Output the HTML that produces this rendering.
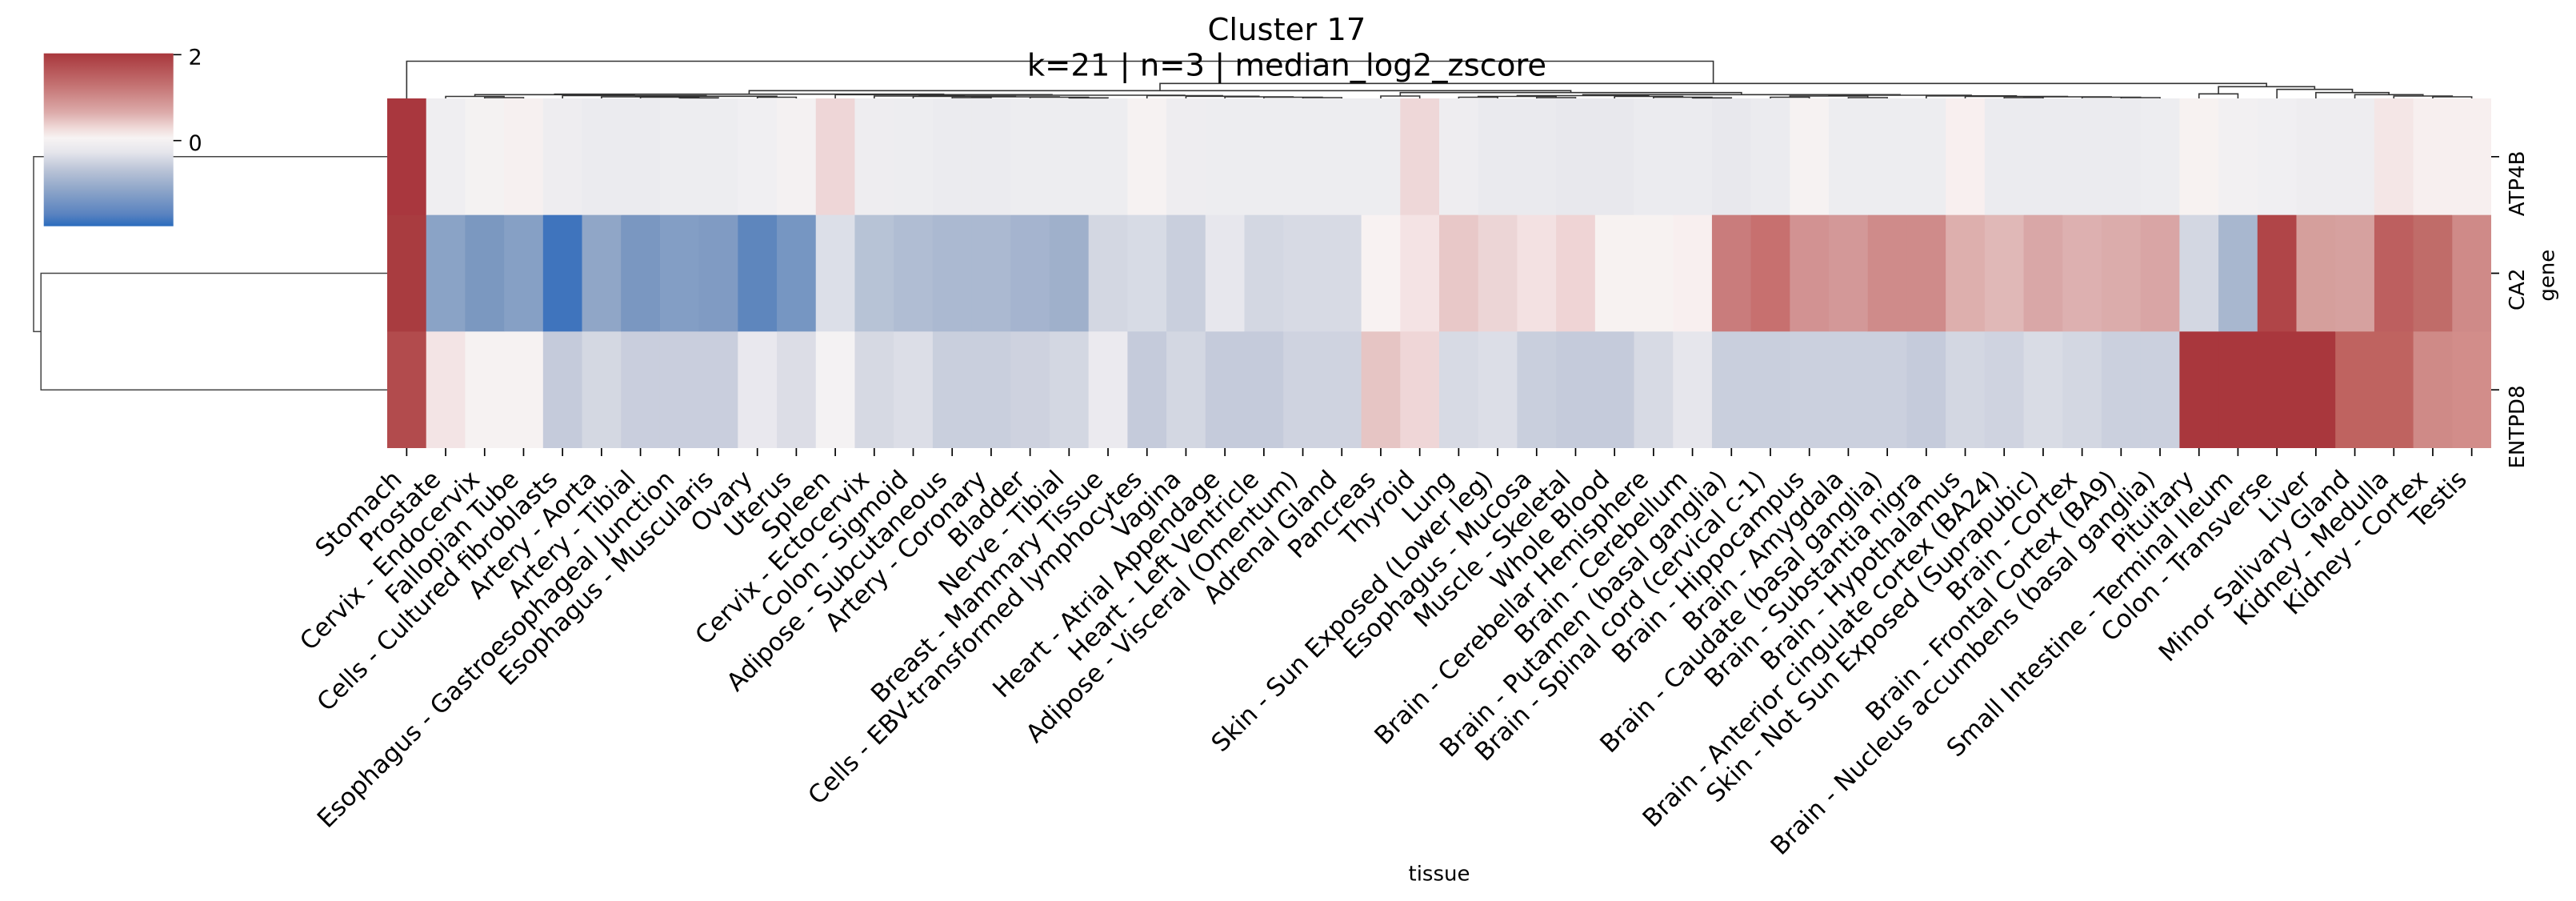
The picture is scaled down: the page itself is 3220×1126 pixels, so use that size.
<!DOCTYPE html>
<html><head><meta charset="utf-8">
<style>
html,body{margin:0;padding:0;background:#fff}
svg{display:block}
text{font-family:"DejaVu Sans","Liberation Sans",sans-serif;fill:#000}
</style></head>
<body>
<svg xmlns="http://www.w3.org/2000/svg" width="3220" height="1126" viewBox="0 0 3220 1126">
<rect x="0" y="0" width="3220" height="1126" fill="#fff"/>
<defs>
<linearGradient id="cb" x1="0" y1="0" x2="0" y2="1">
<stop offset="0" stop-color="#a8373c"/>
<stop offset="0.185" stop-color="#c47272"/>
<stop offset="0.34" stop-color="#dcaaa9"/>
<stop offset="0.43" stop-color="#efd9d8"/>
<stop offset="0.49" stop-color="#f7f3f3"/>
<stop offset="0.57" stop-color="#e6e6ec"/>
<stop offset="0.68" stop-color="#b8c2d6"/>
<stop offset="0.80" stop-color="#8aa3c8"/>
<stop offset="0.93" stop-color="#5a83c0"/>
<stop offset="1" stop-color="#2a6cbd"/>
</linearGradient>
</defs>

<!-- heatmap -->
<g>
<rect x="484" y="123" width="49.2" height="146.2" fill="#a9373e"/><rect x="484" y="268.67" width="49.2" height="146.2" fill="#a93c40"/><rect x="484" y="414.33" width="49.2" height="145.67" fill="#b24b4d"/>
<rect x="532.70" y="123" width="49.2" height="146.2" fill="#efeef1"/><rect x="532.70" y="268.67" width="49.2" height="146.2" fill="#8aa3c6"/><rect x="532.70" y="414.33" width="49.2" height="145.67" fill="#f3e4e5"/>
<rect x="581.41" y="123" width="49.2" height="146.2" fill="#f4f2f2"/><rect x="581.41" y="268.67" width="49.2" height="146.2" fill="#7b98c0"/><rect x="581.41" y="414.33" width="49.2" height="145.67" fill="#f6f2f2"/>
<rect x="630.11" y="123" width="49.2" height="146.2" fill="#f6f0f0"/><rect x="630.11" y="268.67" width="49.2" height="146.2" fill="#86a0c5"/><rect x="630.11" y="414.33" width="49.2" height="145.67" fill="#f6f2f2"/>
<rect x="678.82" y="123" width="49.2" height="146.2" fill="#eeedf0"/><rect x="678.82" y="268.67" width="49.2" height="146.2" fill="#3f74bd"/><rect x="678.82" y="414.33" width="49.2" height="145.67" fill="#c5cbdb"/>
<rect x="727.52" y="123" width="49.2" height="146.2" fill="#ebebef"/><rect x="727.52" y="268.67" width="49.2" height="146.2" fill="#90a6c7"/><rect x="727.52" y="414.33" width="49.2" height="145.67" fill="#d4d8e2"/>
<rect x="776.22" y="123" width="49.2" height="146.2" fill="#ebebef"/><rect x="776.22" y="268.67" width="49.2" height="146.2" fill="#7a97c1"/><rect x="776.22" y="414.33" width="49.2" height="145.67" fill="#c9cedd"/>
<rect x="824.93" y="123" width="49.2" height="146.2" fill="#ededf0"/><rect x="824.93" y="268.67" width="49.2" height="146.2" fill="#839ec5"/><rect x="824.93" y="414.33" width="49.2" height="145.67" fill="#c9cedd"/>
<rect x="873.63" y="123" width="49.2" height="146.2" fill="#ededf0"/><rect x="873.63" y="268.67" width="49.2" height="146.2" fill="#809bc3"/><rect x="873.63" y="414.33" width="49.2" height="145.67" fill="#c9cedd"/>
<rect x="922.34" y="123" width="49.2" height="146.2" fill="#f0eff2"/><rect x="922.34" y="268.67" width="49.2" height="146.2" fill="#5e86bd"/><rect x="922.34" y="414.33" width="49.2" height="145.67" fill="#e9e8ee"/>
<rect x="971.04" y="123" width="49.2" height="146.2" fill="#f4f1f2"/><rect x="971.04" y="268.67" width="49.2" height="146.2" fill="#7696c2"/><rect x="971.04" y="414.33" width="49.2" height="145.67" fill="#dcdde6"/>
<rect x="1019.74" y="123" width="49.2" height="146.2" fill="#eed6d7"/><rect x="1019.74" y="268.67" width="49.2" height="146.2" fill="#dcdfe8"/><rect x="1019.74" y="414.33" width="49.2" height="145.67" fill="#f4f2f3"/>
<rect x="1068.45" y="123" width="49.2" height="146.2" fill="#eeedf0"/><rect x="1068.45" y="268.67" width="49.2" height="146.2" fill="#b7c3d6"/><rect x="1068.45" y="414.33" width="49.2" height="145.67" fill="#d6d9e3"/>
<rect x="1117.15" y="123" width="49.2" height="146.2" fill="#ededf0"/><rect x="1117.15" y="268.67" width="49.2" height="146.2" fill="#b0bdd3"/><rect x="1117.15" y="414.33" width="49.2" height="145.67" fill="#dcdee7"/>
<rect x="1165.86" y="123" width="49.2" height="146.2" fill="#ebebef"/><rect x="1165.86" y="268.67" width="49.2" height="146.2" fill="#abb9d1"/><rect x="1165.86" y="414.33" width="49.2" height="145.67" fill="#c9cfdd"/>
<rect x="1214.56" y="123" width="49.2" height="146.2" fill="#ebebef"/><rect x="1214.56" y="268.67" width="49.2" height="146.2" fill="#abb9d1"/><rect x="1214.56" y="414.33" width="49.2" height="145.67" fill="#c9cfdd"/>
<rect x="1263.26" y="123" width="49.2" height="146.2" fill="#ededf0"/><rect x="1263.26" y="268.67" width="49.2" height="146.2" fill="#a5b4cf"/><rect x="1263.26" y="414.33" width="49.2" height="145.67" fill="#ced2df"/>
<rect x="1311.97" y="123" width="49.2" height="146.2" fill="#ededf0"/><rect x="1311.97" y="268.67" width="49.2" height="146.2" fill="#9fb0cb"/><rect x="1311.97" y="414.33" width="49.2" height="145.67" fill="#d3d7e2"/>
<rect x="1360.67" y="123" width="49.2" height="146.2" fill="#ededf0"/><rect x="1360.67" y="268.67" width="49.2" height="146.2" fill="#d3d7e2"/><rect x="1360.67" y="414.33" width="49.2" height="145.67" fill="#ebeaef"/>
<rect x="1409.38" y="123" width="49.2" height="146.2" fill="#f6f2f2"/><rect x="1409.38" y="268.67" width="49.2" height="146.2" fill="#d7dbe5"/><rect x="1409.38" y="414.33" width="49.2" height="145.67" fill="#c5cbdb"/>
<rect x="1458.08" y="123" width="49.2" height="146.2" fill="#eeedf0"/><rect x="1458.08" y="268.67" width="49.2" height="146.2" fill="#c9cfdd"/><rect x="1458.08" y="414.33" width="49.2" height="145.67" fill="#d3d7e2"/>
<rect x="1506.78" y="123" width="49.2" height="146.2" fill="#ededf0"/><rect x="1506.78" y="268.67" width="49.2" height="146.2" fill="#e7e7ed"/><rect x="1506.78" y="414.33" width="49.2" height="145.67" fill="#c5cbdb"/>
<rect x="1555.49" y="123" width="49.2" height="146.2" fill="#ededf0"/><rect x="1555.49" y="268.67" width="49.2" height="146.2" fill="#d3d7e2"/><rect x="1555.49" y="414.33" width="49.2" height="145.67" fill="#c5cbdb"/>
<rect x="1604.19" y="123" width="49.2" height="146.2" fill="#ededf0"/><rect x="1604.19" y="268.67" width="49.2" height="146.2" fill="#d7dae4"/><rect x="1604.19" y="414.33" width="49.2" height="145.67" fill="#cfd3e0"/>
<rect x="1652.90" y="123" width="49.2" height="146.2" fill="#ededf0"/><rect x="1652.90" y="268.67" width="49.2" height="146.2" fill="#d7dae4"/><rect x="1652.90" y="414.33" width="49.2" height="145.67" fill="#cfd3e0"/>
<rect x="1701.60" y="123" width="49.2" height="146.2" fill="#ededf0"/><rect x="1701.60" y="268.67" width="49.2" height="146.2" fill="#f8f2f2"/><rect x="1701.60" y="414.33" width="49.2" height="145.67" fill="#e6c5c4"/>
<rect x="1750.30" y="123" width="49.2" height="146.2" fill="#eed7d8"/><rect x="1750.30" y="268.67" width="49.2" height="146.2" fill="#f4e3e4"/><rect x="1750.30" y="414.33" width="49.2" height="145.67" fill="#efd6d7"/>
<rect x="1799.01" y="123" width="49.2" height="146.2" fill="#eeedf0"/><rect x="1799.01" y="268.67" width="49.2" height="146.2" fill="#e8c8c8"/><rect x="1799.01" y="414.33" width="49.2" height="145.67" fill="#d7dae4"/>
<rect x="1847.71" y="123" width="49.2" height="146.2" fill="#eaeaee"/><rect x="1847.71" y="268.67" width="49.2" height="146.2" fill="#ecd5d6"/><rect x="1847.71" y="414.33" width="49.2" height="145.67" fill="#dcdee7"/>
<rect x="1896.42" y="123" width="49.2" height="146.2" fill="#eaeaee"/><rect x="1896.42" y="268.67" width="49.2" height="146.2" fill="#f3e1e2"/><rect x="1896.42" y="414.33" width="49.2" height="145.67" fill="#c9cfdd"/>
<rect x="1945.12" y="123" width="49.2" height="146.2" fill="#e8e8ed"/><rect x="1945.12" y="268.67" width="49.2" height="146.2" fill="#efd4d5"/><rect x="1945.12" y="414.33" width="49.2" height="145.67" fill="#c5cbdb"/>
<rect x="1993.82" y="123" width="49.2" height="146.2" fill="#e8e8ed"/><rect x="1993.82" y="268.67" width="49.2" height="146.2" fill="#f7f2f1"/><rect x="1993.82" y="414.33" width="49.2" height="145.67" fill="#c5cbdb"/>
<rect x="2042.53" y="123" width="49.2" height="146.2" fill="#ebebef"/><rect x="2042.53" y="268.67" width="49.2" height="146.2" fill="#f7f2f1"/><rect x="2042.53" y="414.33" width="49.2" height="145.67" fill="#d7dae4"/>
<rect x="2091.23" y="123" width="49.2" height="146.2" fill="#ebebef"/><rect x="2091.23" y="268.67" width="49.2" height="146.2" fill="#f8efef"/><rect x="2091.23" y="414.33" width="49.2" height="145.67" fill="#e6e6ec"/>
<rect x="2139.94" y="123" width="49.2" height="146.2" fill="#e8e8ed"/><rect x="2139.94" y="268.67" width="49.2" height="146.2" fill="#c97c7c"/><rect x="2139.94" y="414.33" width="49.2" height="145.67" fill="#c9cfdd"/>
<rect x="2188.64" y="123" width="49.2" height="146.2" fill="#ebebef"/><rect x="2188.64" y="268.67" width="49.2" height="146.2" fill="#c7706f"/><rect x="2188.64" y="414.33" width="49.2" height="145.67" fill="#c9cfdd"/>
<rect x="2237.34" y="123" width="49.2" height="146.2" fill="#f6f2f2"/><rect x="2237.34" y="268.67" width="49.2" height="146.2" fill="#d29292"/><rect x="2237.34" y="414.33" width="49.2" height="145.67" fill="#cbd0de"/>
<rect x="2286.05" y="123" width="49.2" height="146.2" fill="#ededf0"/><rect x="2286.05" y="268.67" width="49.2" height="146.2" fill="#d39898"/><rect x="2286.05" y="414.33" width="49.2" height="145.67" fill="#cbd0de"/>
<rect x="2334.75" y="123" width="49.2" height="146.2" fill="#ededf0"/><rect x="2334.75" y="268.67" width="49.2" height="146.2" fill="#cf8b8a"/><rect x="2334.75" y="414.33" width="49.2" height="145.67" fill="#cbd0de"/>
<rect x="2383.46" y="123" width="49.2" height="146.2" fill="#ededf0"/><rect x="2383.46" y="268.67" width="49.2" height="146.2" fill="#cf8b8a"/><rect x="2383.46" y="414.33" width="49.2" height="145.67" fill="#c5cbdb"/>
<rect x="2432.16" y="123" width="49.2" height="146.2" fill="#f8efef"/><rect x="2432.16" y="268.67" width="49.2" height="146.2" fill="#ddafad"/><rect x="2432.16" y="414.33" width="49.2" height="145.67" fill="#d3d7e2"/>
<rect x="2480.86" y="123" width="49.2" height="146.2" fill="#ebebef"/><rect x="2480.86" y="268.67" width="49.2" height="146.2" fill="#e0b8b7"/><rect x="2480.86" y="414.33" width="49.2" height="145.67" fill="#cfd3e0"/>
<rect x="2529.57" y="123" width="49.2" height="146.2" fill="#ebebef"/><rect x="2529.57" y="268.67" width="49.2" height="146.2" fill="#d9a7a7"/><rect x="2529.57" y="414.33" width="49.2" height="145.67" fill="#d9dce5"/>
<rect x="2578.27" y="123" width="49.2" height="146.2" fill="#ebebef"/><rect x="2578.27" y="268.67" width="49.2" height="146.2" fill="#ddb0b0"/><rect x="2578.27" y="414.33" width="49.2" height="145.67" fill="#d3d7e2"/>
<rect x="2626.98" y="123" width="49.2" height="146.2" fill="#ebebef"/><rect x="2626.98" y="268.67" width="49.2" height="146.2" fill="#dbacab"/><rect x="2626.98" y="414.33" width="49.2" height="145.67" fill="#cbd0de"/>
<rect x="2675.68" y="123" width="49.2" height="146.2" fill="#ededf0"/><rect x="2675.68" y="268.67" width="49.2" height="146.2" fill="#d9a5a5"/><rect x="2675.68" y="414.33" width="49.2" height="145.67" fill="#cbd0de"/>
<rect x="2724.38" y="123" width="49.2" height="146.2" fill="#f7f2f1"/><rect x="2724.38" y="268.67" width="49.2" height="146.2" fill="#d3d7e2"/><rect x="2724.38" y="414.33" width="49.2" height="145.67" fill="#a9373d"/>
<rect x="2773.09" y="123" width="49.2" height="146.2" fill="#f2f0f2"/><rect x="2773.09" y="268.67" width="49.2" height="146.2" fill="#a8b7cf"/><rect x="2773.09" y="414.33" width="49.2" height="145.67" fill="#a9373d"/>
<rect x="2821.79" y="123" width="49.2" height="146.2" fill="#f0eff2"/><rect x="2821.79" y="268.67" width="49.2" height="146.2" fill="#b04548"/><rect x="2821.79" y="414.33" width="49.2" height="145.67" fill="#a9373d"/>
<rect x="2870.50" y="123" width="49.2" height="146.2" fill="#eeedf0"/><rect x="2870.50" y="268.67" width="49.2" height="146.2" fill="#d59f9c"/><rect x="2870.50" y="414.33" width="49.2" height="145.67" fill="#a9373d"/>
<rect x="2919.20" y="123" width="49.2" height="146.2" fill="#eeedf0"/><rect x="2919.20" y="268.67" width="49.2" height="146.2" fill="#d6a19f"/><rect x="2919.20" y="414.33" width="49.2" height="145.67" fill="#bf6360"/>
<rect x="2967.90" y="123" width="49.2" height="146.2" fill="#f4e6e6"/><rect x="2967.90" y="268.67" width="49.2" height="146.2" fill="#bd5f5f"/><rect x="2967.90" y="414.33" width="49.2" height="145.67" fill="#bf6360"/>
<rect x="3016.61" y="123" width="49.2" height="146.2" fill="#f7efef"/><rect x="3016.61" y="268.67" width="49.2" height="146.2" fill="#c06c69"/><rect x="3016.61" y="414.33" width="49.2" height="145.67" fill="#cf8a87"/>
<rect x="3065.31" y="123" width="48.7" height="146.2" fill="#f7efef"/><rect x="3065.31" y="268.67" width="48.7" height="146.2" fill="#cf8a88"/><rect x="3065.31" y="414.33" width="48.7" height="145.67" fill="#d28d8a"/>
</g>

<!-- row dendrogram -->
<g fill="none" stroke="#444" stroke-width="1.5">
<path d="M484 195.8H42V414.35H51.2"/>
<path d="M484 341.5H51.2V487.2H484"/>
</g>

<!-- column dendrogram -->
<g fill="none" stroke="#333" stroke-width="1.6">
<path d="M3040.96 123V121H3089.66V123"/>
<path d="M2992.26 123V120H3065.31V121"/>
<path d="M2943.55 123V118.3H3028.79V120"/>
<path d="M2894.85 123V115.7H2986.17V118.3"/>
<path d="M2846.14 123V111.7H2940.51V115.7"/>
<path d="M2748.74 123V117.3H2797.44V123"/>
<path d="M2773.09 117.3V108.3H2893.33V111.7"/>
<path d="M1823.36 123V121.5H1872.06V123"/>
<path d="M1920.77 123V122H1969.47V123"/>
<path d="M1847.71 121.5V120.5H1945.12V122"/>
<path d="M2115.58 123V122.3H2164.29V123"/>
<path d="M2066.88 123V121.5H2139.94V122.3"/>
<path d="M2018.18 123V120.5H2103.41V121.5"/>
<path d="M1896.42 120.5V119.5H2060.80V120.5"/>
<path d="M2212.99 123V121.5H2261.70V123"/>
<path d="M2310.40 123V122H2359.10V123"/>
<path d="M2237.35 121.5V120H2334.75V122"/>
<path d="M2651.33 123V122H2700.03V123"/>
<path d="M2602.62 123V121.5H2675.68V122"/>
<path d="M2505.22 123V122H2553.92V123"/>
<path d="M2529.57 122V121H2639.15V121.5"/>
<path d="M2456.51 123V120.5H2584.36V121"/>
<path d="M2407.81 123V119.8H2520.44V120.5"/>
<path d="M2286.05 120V119H2464.12V119.8"/>
<path d="M1978.61 119.5V118.3H2375.09V119"/>
<path d="M1725.95 123V120H1774.66V123"/>
<path d="M1750.31 120V115.7H2176.85V118.3"/>
<path d="M605.76 123V122H654.46V123"/>
<path d="M557.06 123V120.5H630.11V122"/>
<path d="M849.28 123V122.3H897.98V123"/>
<path d="M800.58 123V121.5H873.63V122.3"/>
<path d="M751.87 123V121H837.11V121.5"/>
<path d="M946.69 123V121.5H995.39V123"/>
<path d="M794.49 121V120.3H971.04V121.5"/>
<path d="M703.17 123V119.5H882.77V120.3"/>
<path d="M593.59 120.5V118.3H792.97V119.5"/>
<path d="M1336.32 123V122.3H1385.02V123"/>
<path d="M1287.62 123V121.5H1360.67V122.3"/>
<path d="M1190.21 123V122H1238.91V123"/>
<path d="M1214.56 122V121H1324.15V121.5"/>
<path d="M1141.50 123V120.5H1269.36V121"/>
<path d="M1092.80 123V120H1205.43V120.5"/>
<path d="M1628.54 123V122H1677.25V123"/>
<path d="M1579.84 123V121.5H1652.90V122"/>
<path d="M1531.14 123V121H1616.37V121.5"/>
<path d="M1482.43 123V120.3H1573.76V121"/>
<path d="M1433.73 123V119.5H1528.10V120.3"/>
<path d="M1149.12 120V119H1480.92V119.5"/>
<path d="M1044.10 123V118.3H1315.02V119"/>
<path d="M693.28 118.3V117.7H1179.56V118.3"/>
<path d="M936.42 117.7V113.3H1963.58V115.7"/>
<path d="M1450.0 113.3V104.3H2833.21V108.3"/>
<path d="M508.35 123V76.5H2141.61V104.3"/>
</g>

<!-- colorbar -->
<rect x="54.7" y="66.7" width="162" height="216" fill="url(#cb)"/>
<path d="M216.7 68.3H226.7M216.7 175.7H226.7" stroke="#000" stroke-width="1.6"/>
<g font-size="27">
<text x="235.5" y="80.5">2</text>
<text x="235.5" y="188">0</text>
</g>

<!-- x ticks -->
<path stroke="#000" stroke-width="1.7" d="M508.35 560v10M557.06 560v10M605.76 560v10M654.46 560v10M703.17 560v10M751.87 560v10M800.58 560v10M849.28 560v10M897.98 560v10M946.69 560v10M995.39 560v10M1044.10 560v10M1092.80 560v10M1141.50 560v10M1190.21 560v10M1238.91 560v10M1287.62 560v10M1336.32 560v10M1385.02 560v10M1433.73 560v10M1482.43 560v10M1531.14 560v10M1579.84 560v10M1628.54 560v10M1677.25 560v10M1725.95 560v10M1774.66 560v10M1823.36 560v10M1872.06 560v10M1920.77 560v10M1969.47 560v10M2018.18 560v10M2066.88 560v10M2115.58 560v10M2164.29 560v10M2212.99 560v10M2261.70 560v10M2310.40 560v10M2359.10 560v10M2407.81 560v10M2456.51 560v10M2505.22 560v10M2553.92 560v10M2602.62 560v10M2651.33 560v10M2700.03 560v10M2748.74 560v10M2797.44 560v10M2846.14 560v10M2894.85 560v10M2943.55 560v10M2992.26 560v10M3040.96 560v10M3089.66 560v10"/>

<!-- y ticks -->
<path stroke="#000" stroke-width="1.7" d="M3114 195.8H3124M3114 341.5H3124M3114 487.2H3124"/>

<!-- x tick labels -->
<g font-size="31" text-anchor="end">
<text transform="translate(503.85 601) rotate(-45)">Stomach</text>
<text transform="translate(552.55 601) rotate(-45)">Prostate</text>
<text transform="translate(601.26 601) rotate(-45)">Cervix - Endocervix</text>
<text transform="translate(649.96 601) rotate(-45)">Fallopian Tube</text>
<text transform="translate(698.67 601) rotate(-45)">Cells - Cultured fibroblasts</text>
<text transform="translate(747.37 601) rotate(-45)">Artery - Aorta</text>
<text transform="translate(796.07 601) rotate(-45)">Artery - Tibial</text>
<text transform="translate(844.78 601) rotate(-45)">Esophagus - Gastroesophageal Junction</text>
<text transform="translate(893.48 601) rotate(-45)">Esophagus - Muscularis</text>
<text transform="translate(942.19 601) rotate(-45)">Ovary</text>
<text transform="translate(990.89 601) rotate(-45)">Uterus</text>
<text transform="translate(1039.59 601) rotate(-45)">Spleen</text>
<text transform="translate(1088.30 601) rotate(-45)">Cervix - Ectocervix</text>
<text transform="translate(1137.00 601) rotate(-45)">Colon - Sigmoid</text>
<text transform="translate(1185.71 601) rotate(-45)">Adipose - Subcutaneous</text>
<text transform="translate(1234.41 601) rotate(-45)">Artery - Coronary</text>
<text transform="translate(1283.11 601) rotate(-45)">Bladder</text>
<text transform="translate(1331.82 601) rotate(-45)">Nerve - Tibial</text>
<text transform="translate(1380.52 601) rotate(-45)">Breast - Mammary Tissue</text>
<text transform="translate(1429.23 601) rotate(-45)">Cells - EBV-transformed lymphocytes</text>
<text transform="translate(1477.93 601) rotate(-45)">Vagina</text>
<text transform="translate(1526.63 601) rotate(-45)">Heart - Atrial Appendage</text>
<text transform="translate(1575.34 601) rotate(-45)">Heart - Left Ventricle</text>
<text transform="translate(1624.04 601) rotate(-45)">Adipose - Visceral (Omentum)</text>
<text transform="translate(1672.75 601) rotate(-45)">Adrenal Gland</text>
<text transform="translate(1721.45 601) rotate(-45)">Pancreas</text>
<text transform="translate(1770.15 601) rotate(-45)">Thyroid</text>
<text transform="translate(1818.86 601) rotate(-45)">Lung</text>
<text transform="translate(1867.56 601) rotate(-45)">Skin - Sun Exposed (Lower leg)</text>
<text transform="translate(1916.27 601) rotate(-45)">Esophagus - Mucosa</text>
<text transform="translate(1964.97 601) rotate(-45)">Muscle - Skeletal</text>
<text transform="translate(2013.67 601) rotate(-45)">Whole Blood</text>
<text transform="translate(2062.38 601) rotate(-45)">Brain - Cerebellar Hemisphere</text>
<text transform="translate(2111.08 601) rotate(-45)">Brain - Cerebellum</text>
<text transform="translate(2159.79 601) rotate(-45)">Brain - Putamen (basal ganglia)</text>
<text transform="translate(2208.49 601) rotate(-45)">Brain - Spinal cord (cervical c-1)</text>
<text transform="translate(2257.19 601) rotate(-45)">Brain - Hippocampus</text>
<text transform="translate(2305.90 601) rotate(-45)">Brain - Amygdala</text>
<text transform="translate(2354.60 601) rotate(-45)">Brain - Caudate (basal ganglia)</text>
<text transform="translate(2403.31 601) rotate(-45)">Brain - Substantia nigra</text>
<text transform="translate(2452.01 601) rotate(-45)">Brain - Hypothalamus</text>
<text transform="translate(2500.71 601) rotate(-45)">Brain - Anterior cingulate cortex (BA24)</text>
<text transform="translate(2549.42 601) rotate(-45)">Skin - Not Sun Exposed (Suprapubic)</text>
<text transform="translate(2598.12 601) rotate(-45)">Brain - Cortex</text>
<text transform="translate(2646.83 601) rotate(-45)">Brain - Frontal Cortex (BA9)</text>
<text transform="translate(2695.53 601) rotate(-45)">Brain - Nucleus accumbens (basal ganglia)</text>
<text transform="translate(2744.23 601) rotate(-45)">Pituitary</text>
<text transform="translate(2792.94 601) rotate(-45)">Small Intestine - Terminal Ileum</text>
<text transform="translate(2841.64 601) rotate(-45)">Colon - Transverse</text>
<text transform="translate(2890.35 601) rotate(-45)">Liver</text>
<text transform="translate(2939.05 601) rotate(-45)">Minor Salivary Gland</text>
<text transform="translate(2987.75 601) rotate(-45)">Kidney - Medulla</text>
<text transform="translate(3036.46 601) rotate(-45)">Kidney - Cortex</text>
<text transform="translate(3085.16 601) rotate(-45)">Testis</text>
</g>

<!-- y tick labels -->
<g font-size="26" text-anchor="end">
<text transform="translate(3155 188.5) rotate(-90)">ATP4B</text>
<text transform="translate(3155 335.5) rotate(-90)">CA2</text>
<text transform="translate(3155 481.5) rotate(-90)">ENTPD8</text>
</g>

<!-- axis labels -->
<text font-size="26" text-anchor="middle" transform="translate(3192.5 344.2) rotate(-90)">gene</text>
<text font-size="26" text-anchor="middle" x="1799" y="1100.5">tissue</text>

<!-- title -->
<g font-size="38.5" text-anchor="middle">
<text x="1608.5" y="50">Cluster 17</text>
<text x="1608.5" y="94.5">k=21 | n=3 | median_log2_zscore</text>
</g>
</svg>
</body></html>
